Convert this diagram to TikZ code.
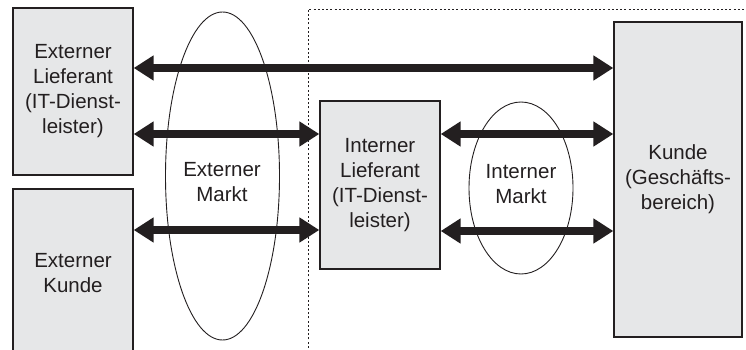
\documentclass[tikz,border=0pt]{standalone}
\usepackage{fontspec}
\setmainfont{Liberation Sans}
\usetikzlibrary{arrows.meta,shapes.geometric}
\definecolor{boxfill}{HTML}{E6E7E8}
\definecolor{ink}{HTML}{231F20}
\tikzset{
  party/.style={draw=ink, line width=1.4pt, fill=boxfill, inner sep=0pt,
    align=center, text=ink, font=\fontsize{20.5}{25}\selectfont},
  market/.style={draw=ink, line width=0.9pt, ellipse, inner sep=0pt},
  label/.style={align=center, text=ink, font=\fontsize{20.5}{25}\selectfont},
  flow/.style={draw=ink, line width=8pt,
    {Triangle[length=20pt,width=24pt]}-{Triangle[length=20pt,width=24pt]}},
  border/.style={draw=ink, line width=0.9pt, dash pattern=on 2pt off 2.2pt}
}
\begin{document}
\begin{tikzpicture}[x=1pt,y=-1pt]
\useasboundingbox (0,0) rectangle (746,350);
% internal area boundary
\coordinate (bc) at (308,9);
\coordinate (bb) at (308,352);
\coordinate (br) at (748,9);
\draw[border] (bb) -- (bc) -- (br);
% markets
\node[market, minimum width=114pt, minimum height=328pt] (em) at (222.5,176) {};
\node[market, minimum width=104pt, minimum height=172pt] (im) at (521,188) {};
\node[label] (emt) at (222,182) {Externer\\Markt};
\node[label] (imt) at (521,184) {Interner\\Markt};
% parties
\node[party, minimum width=120pt, minimum height=167pt] (el) at (73,91.5)
  {Externer\\Lieferant\\(IT-Dienst-\\leister)};
\node[party, minimum width=120pt, minimum height=168pt] (ek) at (73,273)
  {Externer\\Kunde};
\node[party, minimum width=120pt, minimum height=168pt] (il) at (380,185)
  {Interner\\Lieferant\\(IT-Dienst-\\leister)};
\node[party, minimum width=128pt, minimum height=315pt] (ku) at (678,179.5)
  {Kunde\\(Geschäfts-\\bereich)};
% flows
\draw[flow] (el.east |- 0,68) -- (ku.west |- 0,68);
\draw[flow] (el.east |- 0,134) -- (il.west |- 0,134);
\draw[flow] (ek.east |- 0,230) -- (il.west |- 0,230);
\draw[flow] (il.east |- 0,134) -- (ku.west |- 0,134);
\draw[flow] (il.east |- 0,231) -- (ku.west |- 0,231);
\end{tikzpicture}
\end{document}
